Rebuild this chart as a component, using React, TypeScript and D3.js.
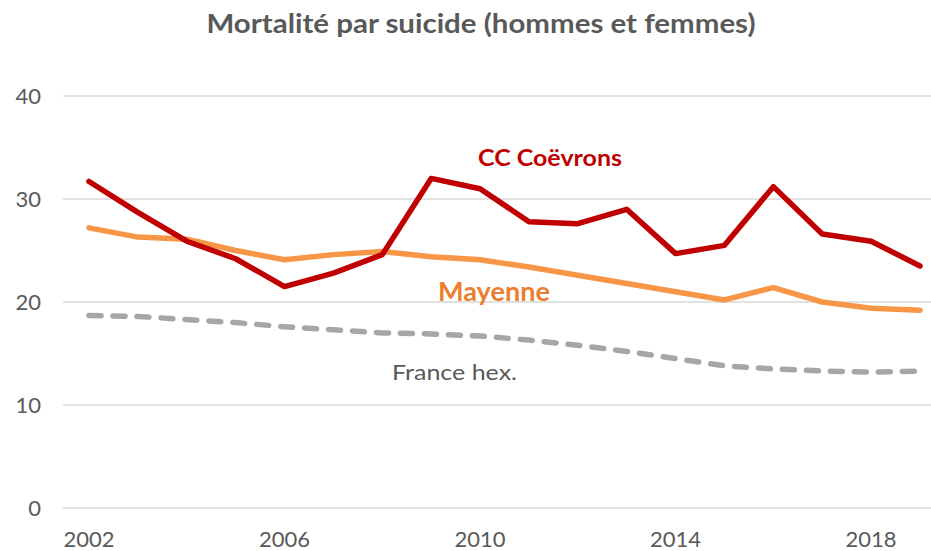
import React from "react";
import * as d3 from "d3";

const years = d3.range(2002, 2020);
const coevrons = [31.7, 28.7, 25.9, 24.2, 21.5, 22.8, 24.6, 32.0, 31.0, 27.8, 27.6, 29.0, 24.7, 25.5, 31.2, 26.6, 25.9, 23.5];
const mayenne = [27.2, 26.3, 26.1, 25.0, 24.1, 24.6, 24.9, 24.4, 24.1, 23.4, 22.6, 21.8, 21.0, 20.2, 21.4, 20.0, 19.4, 19.2];
const france = [18.7, 18.6, 18.3, 18.0, 17.6, 17.3, 17.0, 16.9, 16.7, 16.3, 15.8, 15.2, 14.5, 13.8, 13.5, 13.3, 13.2, 13.3];
const yTicks = [0, 10, 20, 30, 40];
const xTicks = [2002, 2006, 2010, 2014, 2018];

const W = 931;
const H = 551;

export default function App() {
  React.useEffect(() => {
    document.body.style.margin = "0";
  }, []);
  const x = d3.scalePoint<number>().domain(years).range([89, 920]);
  const y = d3.scaleLinear().domain([0, 40]).range([508, 96]);
  const line = d3
    .line<number>()
    .x((_, i) => x(years[i]) as number)
    .y((d) => y(d));
  const font = "Lato, 'Open Sans', sans-serif";
  return (
    <svg width={W} height={H} style={{ display: "block", background: "#fff" }}>
      <text x={481} y={33} textAnchor="middle" fontFamily={font} fontWeight="bold" fontSize={26} fill="#595959" textLength={549} lengthAdjust="spacingAndGlyphs">
        Mortalité par suicide (hommes et femmes)
      </text>
      {yTicks.map((t) => (
        <g key={t}>
          <line x1={63} x2={W} y1={y(t)} y2={y(t)} stroke="#d9d9d9" strokeWidth={1.5} />
          <text x={41} y={y(t) + 8} textAnchor="end" fontFamily={font} fontSize={22} fill="#595959">
            {t}
          </text>
        </g>
      ))}
      {xTicks.map((t) => (
        <text key={t} x={x(t) as number} y={547} textAnchor="middle" fontFamily={font} fontSize={22} fill="#595959">
          {t}
        </text>
      ))}
      <path d={line(france) || ""} fill="none" stroke="#a6a6a6" strokeWidth={5.5} strokeDasharray="12 12" strokeLinecap="round" strokeLinejoin="round" />
      <path d={line(mayenne) || ""} fill="none" stroke="#f79646" strokeWidth={5.5} strokeLinecap="round" strokeLinejoin="round" />
      <path d={line(coevrons) || ""} fill="none" stroke="#c00000" strokeWidth={5.5} strokeLinecap="round" strokeLinejoin="round" />
      <text x={478} y={166} fontFamily={font} fontWeight="bold" fontSize={22} fill="#c00000" textLength={144} lengthAdjust="spacingAndGlyphs">
        CC Coëvrons
      </text>
      <text x={438} y={301} fontFamily={font} fontWeight="bold" fontSize={26} fill="#ed7d31" textLength={112} lengthAdjust="spacingAndGlyphs">
        Mayenne
      </text>
      <text x={392} y={380} fontFamily={font} fontSize={21} fill="#595959" textLength={125} lengthAdjust="spacingAndGlyphs">
        France hex.
      </text>
    </svg>
  );
}
